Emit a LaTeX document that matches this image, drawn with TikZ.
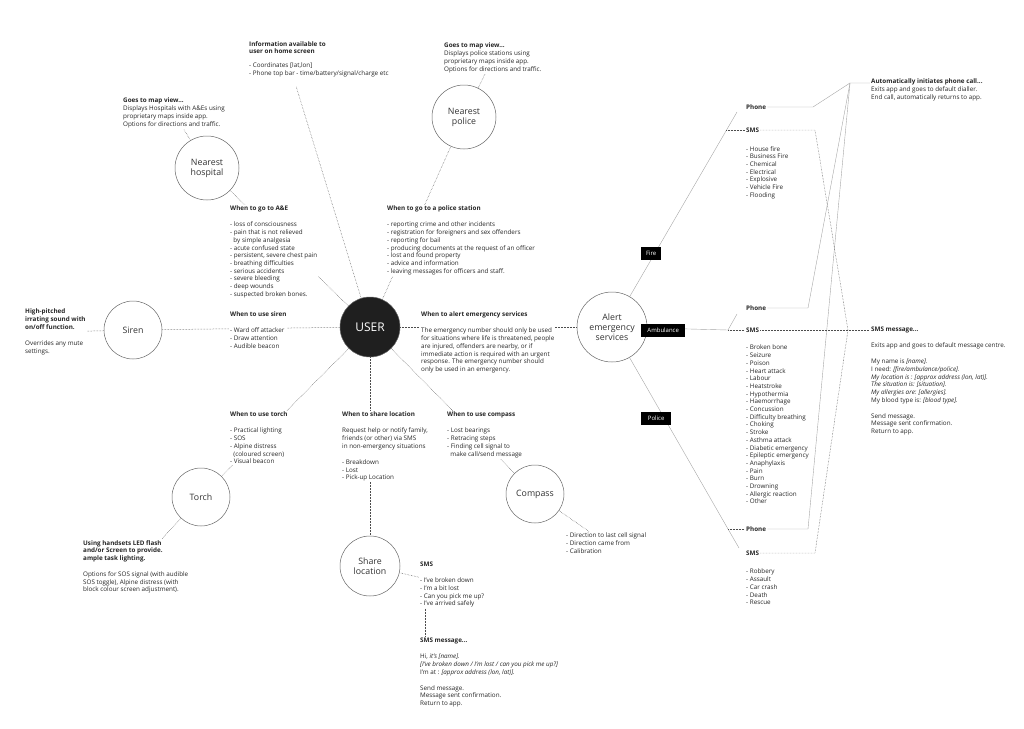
\documentclass[tikz,border=0pt]{standalone}
\usepackage{fontspec}
\setmainfont{Open Sans}
\usetikzlibrary{backgrounds}
\newcommand\fs{\fontsize{6.3}{7.7}\selectfont}
\newcommand\gp{\\[8.3pt]}
\begin{document}
\begin{tikzpicture}[x=1pt,y=-1pt,
  txt/.style={anchor=north west, inner sep=1pt, fill=white, align=left, font=\fs, text=black!85},
  lbl/.style={anchor=west, inner sep=1pt, fill=white, font=\fs\bfseries, text=black!85},
  circ/.style={circle, draw=black!60, line width=0.5pt, fill=white, align=center, text=black!80, font=\fontsize{8.8}{10}\selectfont},
  dotl/.style={draw=black!70, line width=0.5pt, dash pattern=on 0.45pt off 1.05pt},
  sol/.style={draw=black!35, line width=0.4pt},
  tag/.style={anchor=west, fill=black, text=white, font=\fontsize{6}{7}\selectfont, inner sep=0pt, minimum height=13pt}
]
\useasboundingbox (0,0) rectangle (1024,728);

% circles
\node[circ, fill=black!88, text=white, minimum size=60pt, font=\fontsize{12}{13}\selectfont] (user) at (370,327) {USER};
\node[circ, minimum size=64pt] (hosp) at (207,168) {Nearest\\hospital};
\node[circ, minimum size=64pt] (pol) at (464,117) {Nearest\\police};
\node[circ, minimum size=58pt] (siren) at (133,330) {Siren};
\node[circ, minimum size=58pt] (torch) at (201,497) {Torch};
\node[circ, minimum size=58pt] (compass) at (535,494) {Compass};
\node[circ, minimum size=60pt] (share) at (370,566) {Share\\location};
\node[circ, minimum size=70pt] (alert) at (612,327) {Alert\\emergency\\services};

% text blocks
\node[txt] (hospmap) at (122,97) {\textbf{Goes to map view...}\\Displays Hospitals with A\&Es using\\proprietary maps inside app.\\Options for directions and traffic.};
\node[txt] (info) at (248,40) {\textbf{Information available to}\\\textbf{user on home screen}\\[6pt]- Coordinates [lat,lon]\\- Phone top bar - time/battery/signal/charge etc};
\node[txt] (polmap) at (443,42) {\textbf{Goes to map view...}\\Displays police stations using\\proprietary maps inside app.\\Options for directions and traffic.};
\node[txt] (ae) at (229,205) {\textbf{When to go to A\&E}\gp- loss of consciousness\\- pain that is not relieved\\\ \ by simple analgesia\\- acute confused state\\- persistent, severe chest pain\\- breathing difficulties\\- serious accidents\\- severe bleeding\\- deep wounds\\- suspected broken bones.};
\node[txt] (polst) at (386,205) {\textbf{When to go to a police station}\gp- reporting crime and other incidents\\- registration for foreigners and sex offenders\\- reporting for bail\\- producing documents at the request of an officer\\- lost and found property\\- advice and information\\- leaving messages for officers and staff.};
\node[txt] (sirenL) at (24,308) {\textbf{High-pitched}\\\textbf{irrating sound with}\\\textbf{on/off function.}\gp Overrides any mute\\settings.};
\node[txt] (sirenW) at (229,311) {\textbf{When to use siren}\gp- Ward off attacker\\- Draw attention\\- Audible beacon};
\node[txt] (emerg) at (420,311) {\textbf{When to alert emergency services}\gp The emergency number should only be used\\for situations where life is threatened, people\\are injured, offenders are nearby, or if\\immediate action is required with an urgent\\response. The emergency number should\\only be used in an emergency.};
\node[txt] (torchW) at (229,411) {\textbf{When to use torch}\gp- Practical lighting\\- SOS\\- Alpine distress\\\ \ (coloured screen)\\- Visual beacon};
\node[txt] (shareW) at (341,411) {\textbf{When to share location}\gp Request help or notify family,\\friends (or other) via SMS\\in non-emergency situations\gp- Breakdown\\- Lost\\- Pick-up Location};
\node[txt] (compW) at (446,411) {\textbf{When to use compass}\gp- Lost bearings\\- Retracing steps\\- Finding cell signal to\\\ \ make call/send message};
\node[txt] (torchB) at (82,539) {\textbf{Using handsets LED flash}\\\textbf{and/or Screen to provide.}\\\textbf{ample task lighting.}\gp Options for SOS signal (with audible\\SOS toggle), Alpine distress (with\\block colour screen adjustment).};
\node[txt] (compB) at (565,532) {- Direction to last cell signal\\- Direction came from\\- Calibration};
\node[txt] (shsms) at (419,561) {\textbf{SMS}\gp- I've broken down\\- I'm a bit lost\\- Can you pick me up?\\- I've arrived safely};
\node[txt] (shmsg) at (419,637) {\textbf{SMS message...}\gp Hi, \textit{it's [name].}\\\textit{[I've broken down / I'm lost / can you pick me up?]}\\I'm at : \textit{[approx address (lon, lat)].}\gp Send message.\\Message sent confirmation.\\Return to app.};

% right side
\node[txt] (auto) at (870,78) {\textbf{Automatically initiates phone call...}\\Exits app and goes to default dialler.\\End call, automatically returns to app.};
\node[txt] (smsmsg) at (870,326) {\textbf{SMS message...}\gp Exits app and goes to default message centre.\gp My name is \textit{[name].}\\I need: \textit{[fire/ambulance/police].}\\\textit{My location is : [approx address (lon, lat)].}\\\textit{The situation is: [situation].}\\\textit{My allergies are: [allergies].}\\My blood type is: \textit{[blood type].}\gp Send message.\\Message sent confirmation.\\Return to app.};

\node[lbl] (fph) at (745,107) {Phone};
\node[lbl] (fsms) at (745,130) {SMS};
\node[txt] (flist) at (745,145) {- House fire\\- Business Fire\\- Chemical\\- Electrical\\- Explosive\\- Vehicle Fire\\- Flooding};
\node[lbl] (aph) at (745,308) {Phone};
\node[lbl] (asms) at (745,330) {SMS};
\node[txt] (alist) at (745,344) {- Broken bone\\- Seizure\\- Poison\\- Heart attack\\- Labour\\- Heatstroke\\- Hypothermia\\- Haemorrhage\\- Concussion\\- Difficulty breathing\\- Choking\\- Stroke\\- Asthma attack\\- Diabetic emergency\\- Epileptic emergency\\- Anaphylaxis\\- Pain\\- Burn\\- Drowning\\- Allergic reaction\\- Other};
\node[lbl] (pph) at (745,529) {Phone};
\node[lbl] (psms) at (745,553) {SMS};
\node[txt] (plist) at (745,568) {- Robbery\\- Assault\\- Car crash\\- Death\\- Rescue};

\node[tag, minimum width=20pt] (fire) at (641,253) {Fire};
\node[tag, minimum width=44pt] (amb) at (641,330) {Ambulance};
\node[tag, minimum width=30pt] (police) at (641,418) {Police};

\coordinate (infoend) at (296,86);
\coordinate (fj) at (737,112);
\coordinate (fjs) at (726,130);
\coordinate (aj) at (728,330);
\coordinate (ajp) at (737,314);
\coordinate (pj) at (728,529);
\coordinate (pjs) at (739,548);
\coordinate (fp1) at (813,107);
\coordinate (top) at (850,83);
\coordinate (ap1) at (808,308);
\coordinate (pp1) at (808,529);
\coordinate (fs1) at (815,130);
\coordinate (sj) at (848,330);
\coordinate (ps1) at (815,553);

\begin{pgfonlayer}{background}
\draw[dotl] (user) -- (hosp);
\draw[dotl] (user) -- (infoend);
\draw[dotl] (user) -- (pol);
\draw[dotl] (user) -- (siren);
\draw[dotl] (user) -- (alert);
\draw[dotl] (user) -- (torch);
\draw[dotl] (user) -- (share);
\draw[dotl] (user) -- (compass);
\draw[dotl] (hosp) -- (hospmap);
\draw[dotl] (pol) -- (polmap);
\draw[dotl] (siren) -- (sirenL);
\draw[dotl] (torch) -- (torchB);
\draw[dotl] (compass) -- (compB);
\draw[dotl] (share) -- (shsms);
\draw[dotl] ([xshift=6pt]shsms.south west) -- ([xshift=6pt]shmsg.north west);
% alert branches
\draw[sol] (alert) -- (fj);
\draw[dotl] (fjs) -- (fsms);
\draw[sol] (alert) -- (aj) -- (ajp);
\draw[dotl] (aj) -- (asms);
\draw[sol] (alert) -- (pj) -- (pjs);
\draw[dotl] (pj) -- (pph);
% to right texts
\draw[sol] (fph) -- (fp1) -- (top) -- (auto.west |- top);
\draw[sol] (aph) -- (ap1) -- (top);
\draw[sol] (pph) -- (pp1) -- (top);
\draw[dotl] (fsms) -- (fs1) -- (sj);
\draw[dotl] (asms) -- (smsmsg.west |- asms);
\draw[dotl] (psms) -- (ps1) -- (sj);
\end{pgfonlayer}
\end{tikzpicture}
\end{document}
